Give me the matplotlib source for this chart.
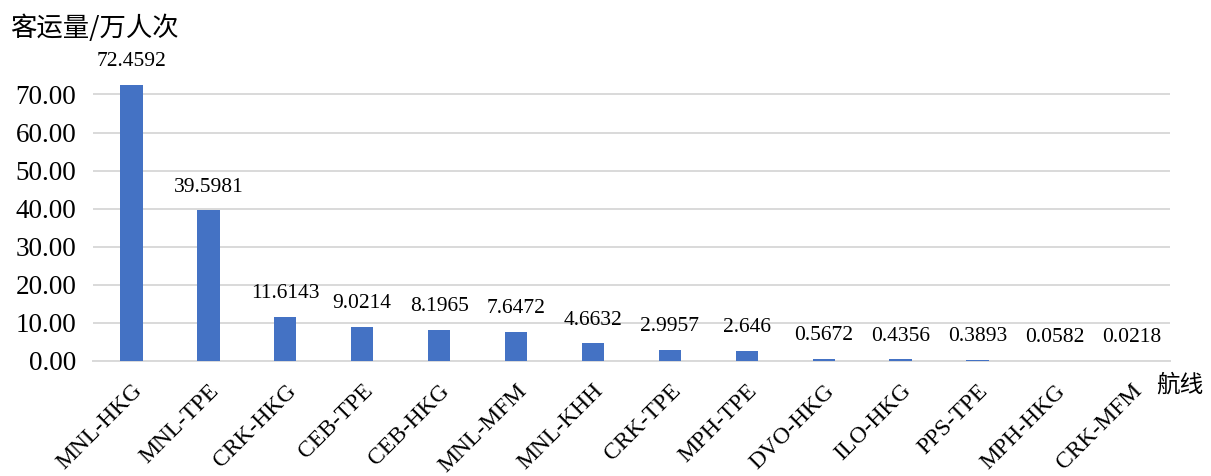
import matplotlib
matplotlib.use("Agg")
import matplotlib.pyplot as plt

routes = ["MNL-HKG", "MNL-TPE", "CRK-HKG", "CEB-TPE", "CEB-HKG", "MNL-MFM", "MNL-KHH",
          "CRK-TPE", "MPH-TPE", "DVO-HKG", "ILO-HKG", "PPS-TPE", "MPH-HKG", "CRK-MFM"]
passengers = [72.4592, 39.5981, 11.6143, 9.0214, 8.1965, 7.6472, 4.6632,
              2.9957, 2.646, 0.5672, 0.4356, 0.3893, 0.0582, 0.0218]
yticks = [0, 10, 20, 30, 40, 50, 60, 70]

BLUE, GRID, INK = "#4472C4", "#d9d9d9", "#000000"
CJK = ["Noto Sans CJK SC", "DejaVu Sans"]
plt.rcParams["font.family"] = "serif"
plt.rcParams["font.serif"] = ["Liberation Serif", "DejaVu Serif"]

fig = plt.figure(figsize=(12.11, 4.76), dpi=100)
ax = fig.add_axes([0.0768, 0.2416, 0.8892, 0.624])

x = range(len(routes))
bars = ax.bar(x, passengers, width=0.29, color=BLUE, zorder=3)
for b, v in zip(bars, passengers):
    ax.text(b.get_x() + b.get_width() / 2, v + 3.6, str(v), ha="center", va="bottom",
            fontsize=15.5, color=INK)

ax.set_xlim(-0.5, len(routes) - 0.5)
ax.set_ylim(0, 78)
ax.set_yticks(yticks)
ax.set_yticklabels([f"{t:.2f}" for t in yticks], fontsize=19.5)
ax.set_xticks(list(x))
ax.set_xticklabels(routes, rotation=45, ha="right", va="top", rotation_mode="anchor",
                   fontsize=17)
ax.tick_params(length=0)
ax.tick_params(axis="x", pad=14)
ax.tick_params(axis="y", pad=12)
ax.grid(axis="y", color=GRID, linewidth=1.4, zorder=0)
for s in ("top", "right", "left"):
    ax.spines[s].set_visible(False)
ax.spines["bottom"].set_color(GRID)
ax.spines["bottom"].set_linewidth(1.4)

fig.text(0.008, 0.94, "客运量/万人次", family=CJK, fontsize=19, color=INK, va="center")
fig.text(0.955, 0.19, "航线", family=CJK, fontsize=17, color=INK, va="center")

fig.savefig("out.png", dpi=100)
